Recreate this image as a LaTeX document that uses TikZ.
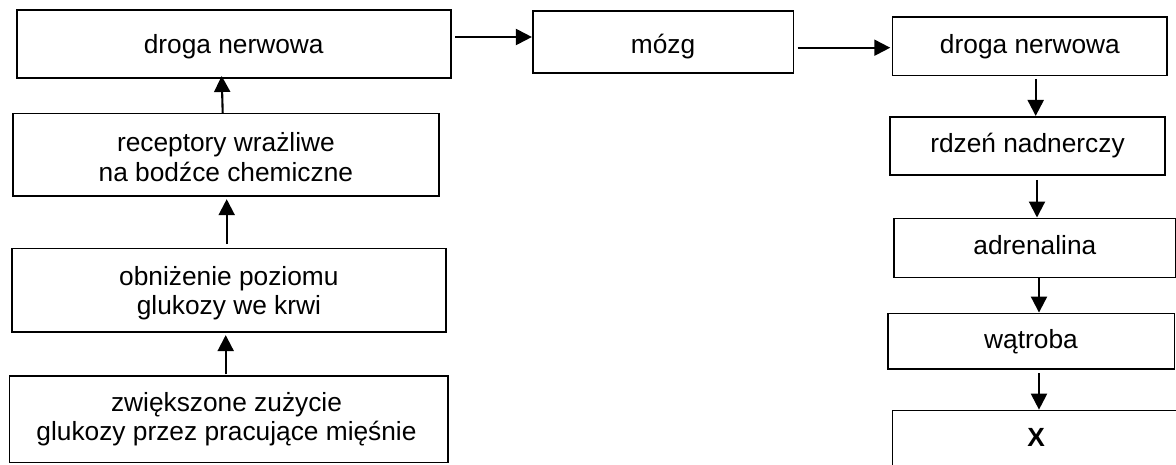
\documentclass[tikz,border=0pt]{standalone}
\usepackage{fontspec}
\setmainfont{Liberation Sans}
\usetikzlibrary{arrows.meta}

\tikzset{
  box/.style={draw=black, line width=1.6pt, rectangle, inner sep=0pt,
    align=center, text height=19pt, text depth=5.5pt,
    font=\fontsize{26.3}{29.5}\selectfont},
  label2/.style={box, draw=none, text height=, text depth=},
  arr/.style={line width=2.1pt, -{Triangle[length=16pt,width=16pt]}}
}

\begin{document}
\begin{tikzpicture}[x=1pt, y=-1pt]
\useasboundingbox (0,0) rectangle (1176,464);
\begin{scope}
\clip (0,0) rectangle (1176,464);

% left column, read from bottom to top
\node[box, line width=2pt, minimum width=434pt, minimum height=68pt] (b1) at (233.7,44) {};
\node[box, minimum width=426.3pt, minimum height=82.5pt] (rec) at (225.9,154.8) {};
\node[box, minimum width=434.3pt, minimum height=83.2pt] (obn) at (228.9,290.1) {};
\node[box, minimum width=438.4pt, minimum height=86.5pt] (zw) at (228.5,419.3) {};
\node[box, draw=none] (b1t) at ([yshift=-3pt]b1.center) {droga nerwowa};
\node[label2] (rect) at ([yshift=-2.5pt]rec.center) {receptory wrażliwe\\na bodźce chemiczne};
\node[label2] (obnt) at ([yshift=-2.9pt]obn.center) {obniżenie poziomu\\glukozy we krwi};
\node[label2] (zwt) at ([xshift=-2pt]zw.center) {zwiększone zużycie\\glukozy przez pracujące mięśnie};

% top row
\node[box, minimum width=260.6pt, minimum height=62pt] (mozg) at (663,42) {};
\node[box, draw=none] (mozgt) at ([yshift=-5pt]mozg.center) {mózg};

% right column
\node[box, minimum width=274.7pt, minimum height=58.5pt] (d2) at (1029.9,46.3) {droga nerwowa};
\node[box, minimum width=275pt, minimum height=58.3pt] (rdz) at (1027.5,145.9) {rdzeń nadnerczy};
\node[box, minimum width=281.7pt, minimum height=59.2pt] (adr) at (1034.9,247.9) {adrenalina};
\node[box, minimum width=286.6pt, minimum height=55.9pt] (wat) at (1031,341.3) {wątroba};
\node[box, minimum width=287.7pt, minimum height=59.5pt, font=\fontsize{26.3}{29.5}\selectfont\bfseries] (x) at (1036.2,440.2) {X};

% upward arrows on the left
\coordinate (s1) at ([xshift=-2.8pt,yshift=1pt]zw.north);
\coordinate (t1) at ([yshift=-2.6pt]obn.south);
\draw[arr] (s1) -- (s1 |- t1);
\coordinate (s2) at ([xshift=-2.2pt,yshift=3.5pt]obn.north);
\coordinate (t2) at ([yshift=-2.3pt]rec.south);
\draw[arr] (s2) -- (s2 |- t2);
\coordinate (s3) at ([xshift=-3.2pt,yshift=-0.2pt]rec.north);
\draw[arr] (s3) -- ([xshift=-12pt,yshift=3pt]b1.south);

% horizontal arrows
\coordinate (h1) at ([xshift=3.3pt,yshift=7pt]b1.east);
\draw[arr] (h1) -- (h1 -| mozg.west);
\coordinate (h2) at ([xshift=3.4pt,yshift=-5.7pt]mozg.east);
\coordinate (t3) at ([xshift=-1.5pt]d2.west);
\draw[arr] (h2) -- (h2 -| t3);

% downward arrows on the right
\coordinate (v1) at ([xshift=5.8pt,yshift=-2.5pt]d2.south);
\draw[arr] (v1) -- (v1 |- rdz.north);
\coordinate (v2) at ([xshift=9.5pt,yshift=-4pt]rdz.south);
\draw[arr] (v2) -- (v2 |- adr.north);
\coordinate (v3) at ([xshift=4.1pt]adr.south);
\draw[arr] (v3) -- (v3 |- wat.north);
\coordinate (v4) at ([xshift=8pt,yshift=-3.4pt]wat.south);
\draw[arr] (v4) -- (v4 |- x.north);
\end{scope}
\end{tikzpicture}
\end{document}
